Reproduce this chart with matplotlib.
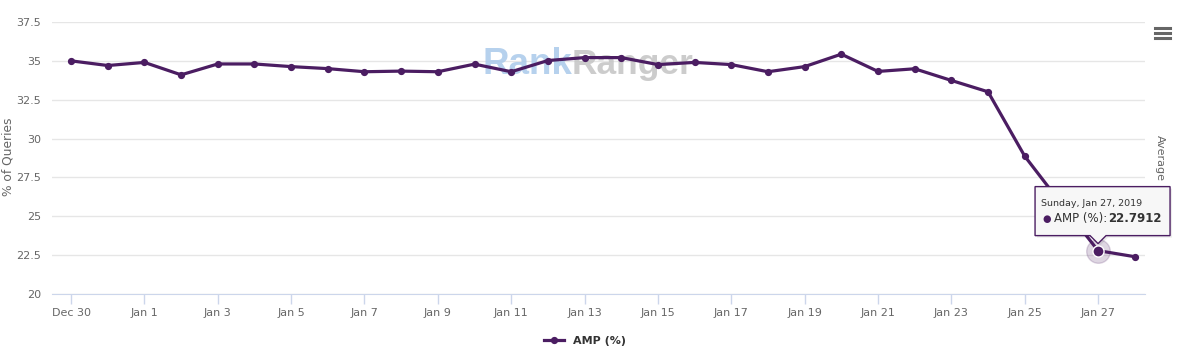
import matplotlib.pyplot as plt
from matplotlib.transforms import offset_copy, IdentityTransform
from matplotlib.patches import Polygon
from matplotlib.lines import Line2D

dates = ['Dec 30', 'Dec 31'] + ['Jan %d' % d for d in range(1, 29)]
amp = [35.0, 34.7, 34.9, 34.1, 34.8, 34.8, 34.63, 34.5, 34.3, 34.34,
       34.3, 34.79, 34.3, 35.02, 35.21, 35.21, 34.76, 34.9, 34.76, 34.3,
       34.63, 35.43, 34.32, 34.49, 33.74, 33.01, 28.87, 25.8, 22.7912, 22.4]
yticks = [20, 22.5, 25, 27.5, 30, 32.5, 35, 37.5]
ytick_labels = ['20', '22.5', '25', '27.5', '30', '32.5', '35', '37.5']
hover_idx = 28
hover_title = 'Sunday, Jan 27, 2019'

purple = '#4b1d62'
grey = '#666666'
x = list(range(len(dates)))

fig = plt.figure(figsize=(11.88, 3.55), dpi=100)
ax = fig.add_axes([52 / 1188, 61 / 355, 1093 / 1188, 272 / 355])

ax.plot(x, amp, color=purple, lw=2.3, marker='o', ms=4.2, zorder=5,
        clip_on=False, label='AMP (%)')
ax.set_xlim(-0.52, 29.28)
ax.set_ylim(20, 37.5)
ax.set_yticks(yticks)
ax.set_yticklabels(ytick_labels)
ax.set_xticks(x[::2][:15])
ax.set_xticklabels(dates[::2][:15])
ax.grid(axis='y', color='#e6e6e6', lw=1)
ax.set_axisbelow(True)
for s in ['top', 'right', 'left']:
    ax.spines[s].set_visible(False)
ax.spines['bottom'].set_color('#ccd6eb')
ax.tick_params(axis='x', colors='#ccd6eb', length=7, width=1, labelcolor=grey,
               labelsize=8, pad=3)
ax.tick_params(axis='y', length=0, labelcolor=grey, labelsize=8, pad=8)
fig.text(8 / 1188, 1 - 157 / 355, '% of Queries', rotation=90, color=grey,
         fontsize=8.8, ha='center', va='center')

# watermark
wx = (572 - 52) / 1093
ax.text(wx, 0.81, 'Rank', transform=ax.transAxes, ha='right', va='baseline',
        fontsize=26.5, fontweight='bold', family='Liberation Sans',
        color='#a9c9ea', alpha=0.85, zorder=1)
ax.text(wx, 0.81, 'Ranger', transform=ax.transAxes, ha='left', va='baseline',
        fontsize=25.5, fontweight='bold', family='Liberation Sans',
        color='#c4c4c4', alpha=0.85, zorder=1)

# hovered point
hx, hy = x[hover_idx], amp[hover_idx]
ax.plot(hx, hy, 'o', ms=17, color=purple, alpha=0.18, zorder=4, clip_on=False)
ax.plot(hx, hy, 'o', ms=8, color=purple, mec='white', mew=1, zorder=6)

# tooltip
def off(dx, dy):
    return offset_copy(ax.transData, fig, x=dx, y=dy, units='dots')

box = [(-63, 15), (-8, 15), (0, 7), (8, 15), (72, 15), (72, 64), (-63, 64)]
pts = [off(dx, dy).transform((hx, hy)) for dx, dy in box]
ax.add_patch(Polygon([(p[0] + 2, p[1] - 2) for p in pts], closed=True,
                     transform=IdentityTransform(), facecolor='#000000',
                     alpha=0.08, edgecolor='none', zorder=7, clip_on=False))
ax.add_patch(Polygon(pts, closed=True, transform=IdentityTransform(),
                     facecolor='#f7f7f7', edgecolor=purple, lw=1, zorder=8,
                     clip_on=False))
ax.text(hx, hy, hover_title, transform=off(-57, 47), fontsize=6.8, color='#333333',
        va='center', ha='left', zorder=9, clip_on=False)
ax.text(hx, hy, '\u25cf', transform=off(-56, 32), fontsize=7, color=purple,
        va='center', ha='left', zorder=9, clip_on=False)
ax.text(hx, hy, 'AMP (%): ', transform=off(-44, 32), fontsize=8.5, color='#333333',
        va='center', ha='left', zorder=9, clip_on=False)
ax.text(hx, hy, '%.4f' % hy, transform=off(10, 32), fontsize=8.5, color='#333333',
        va='center', ha='left', fontweight='bold', zorder=9, clip_on=False)

# right-side label and menu icon
fig.text(1160 / 1188, 1 - 158 / 355, 'Average', rotation=-90, color=grey,
         fontsize=8, ha='center', va='center')
for yy in [28, 33, 38]:
    fig.add_artist(Line2D([1155 / 1188, 1170 / 1188], [1 - yy / 355] * 2,
                          color=grey, lw=2.2))

# legend
leg = fig.legend(loc='center', bbox_to_anchor=(585 / 1188, 1 - 341 / 355),
                 frameon=False, handlelength=1.8, prop={'weight': 'bold', 'size': 8})
for t in leg.get_texts():
    t.set_color('#333333')

fig.savefig('out.png', dpi=100)
